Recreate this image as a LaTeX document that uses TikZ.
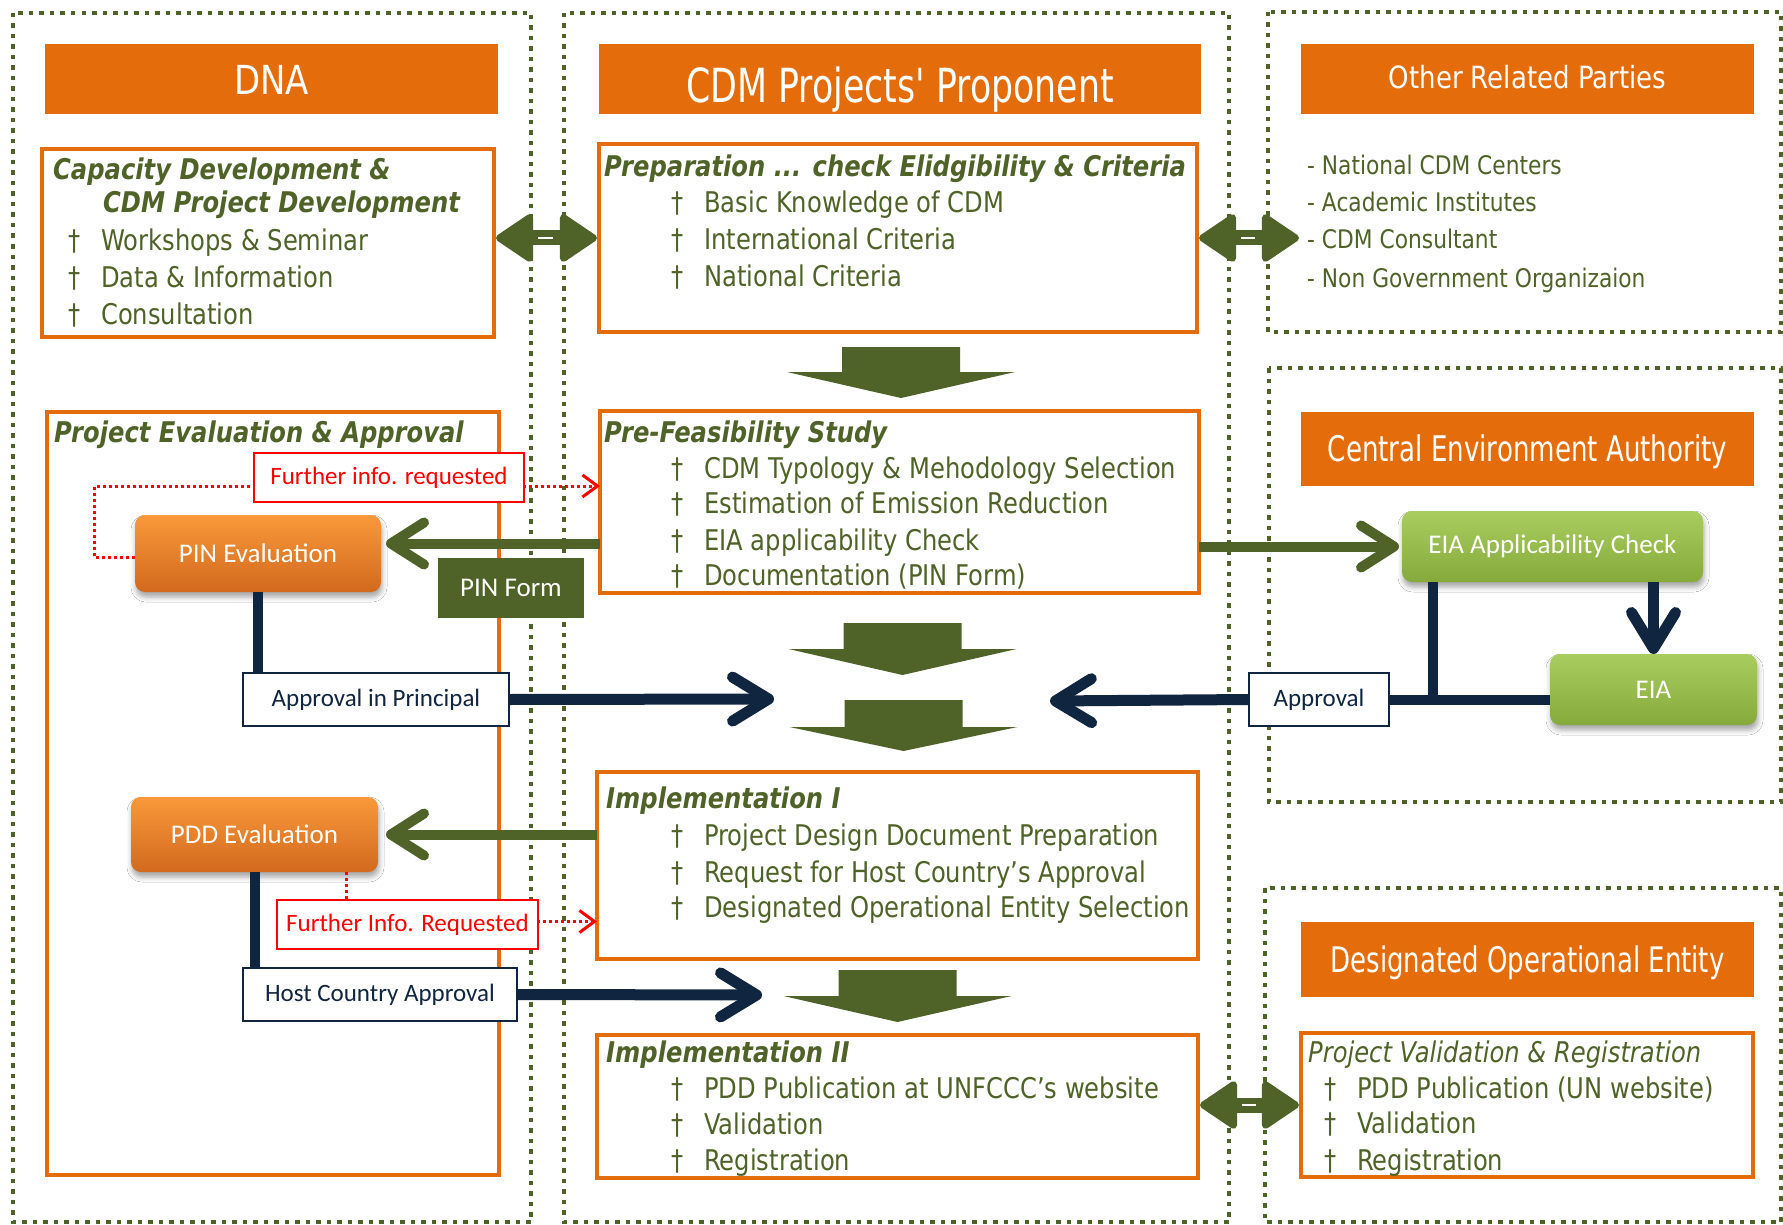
\documentclass[tikz,border=0pt]{standalone}
\usepackage{fontspec}
\setmainfont{DejaVu Sans}[FakeStretch=0.85]
\newfontfamily\hfont{DejaVu Sans}[FakeStretch=0.74]
\newfontfamily\cfont{Carlito}
\usetikzlibrary{arrows.meta,calc,shadows.blur}
\definecolor{cOlive}{HTML}{4F6228}
\definecolor{cOrange}{HTML}{E46C0A}
\definecolor{cNavy}{HTML}{10253F}
\definecolor{cOrL}{HTML}{F9993A}
\definecolor{cOrD}{HTML}{D2691E}
\definecolor{cGrL}{HTML}{AACD5F}
\definecolor{cGrD}{HTML}{85A93A}
\newcommand\itm[4]{\node[body] (#1) at (#2,#3) {\makebox[33pt][l]{†}#4};}
\newcommand\blockarr[4]{\fill[cOlive] (#1-59,#2) -- (#1+59,#2) -- (#1+59,#3) -- (#1+114,#3) -- (#1,#4) -- (#1-114,#3) -- (#1-59,#3) -- cycle;}
\begin{document}
\begin{tikzpicture}[x=1pt,y=-1pt,
  frame/.style={draw=cOlive, line width=4.5pt, dash pattern=on 4.5pt off 6pt},
  hdr/.style={fill=cOrange, draw=none, inner sep=0pt, outer sep=0pt},
  htext/.style={anchor=base, text=white, inner sep=0pt},
  obox/.style={draw=cOrange, line width=4pt, fill=white, inner sep=0pt, outer sep=0pt},
  body/.style={anchor=base west, inner sep=0pt, text=cOlive, font=\fontsize{28.5}{34}\selectfont},
  ttl/.style={anchor=base west, inner sep=0pt, text=cOlive, font=\fontsize{28.5}{34}\selectfont\bfseries\itshape},
  ittl/.style={anchor=base west, inner sep=0pt, text=cOlive, font=\fontsize{28.5}{34}\selectfont\itshape},
  lst/.style={anchor=base west, inner sep=0pt, text=cOlive, font=\fontsize{25.6}{30}\selectfont},
  evalnode/.style={rounded corners=10pt, top color=cOrL, bottom color=cOrD, text=white, font=\cfont\fontsize{27}{27}\selectfont, inner sep=0pt, outer sep=0pt, blur shadow={shadow xshift=1pt, shadow yshift=-5pt, shadow blur radius=5pt, shadow opacity=35}},
  greennode/.style={evalnode, top color=cGrL, bottom color=cGrD},
  lbl/.style={draw=cNavy, line width=2.5pt, fill=white, text=cNavy, font=\cfont\fontsize{25}{25}\selectfont, inner sep=0pt, outer sep=0pt, minimum height=53pt},
  redlbl/.style={draw=red, line width=2pt, fill=white, text=red, font=\cfont\fontsize{25}{25}\selectfont, inner sep=0pt, outer sep=0pt, minimum height=49pt},
  greenarrow/.style={draw=cOlive, line width=10pt, -{Straight Barb[length=33pt,width=42pt,round]}},
  navyarrow/.style={draw=cNavy, line width=11pt, -{Straight Barb[length=36pt,width=44pt,round]}},
  navyline/.style={draw=cNavy, line width=10pt},
  dblarrow/.style={draw=cOlive, line width=15pt, {Triangle[length=40pt,width=52pt,round,line width=7pt]}-{Triangle[length=40pt,width=52pt,round,line width=7pt]}},
  stripe/.style={draw=white, line width=2.5pt},
  reddot/.style={draw=red, line width=3pt, dash pattern=on 3pt off 3pt, -{Straight Barb[length=15pt,width=22pt,line width=3pt]}}
]
\useasboundingbox (0,0) rectangle (1783,1225);
\fill[white] (0,0) rectangle (1783,1225);

% dotted frames
\draw[frame] (13,13) rectangle (531,1222);
\draw[frame] (564,13) rectangle (1229,1222);
\draw[frame] (1268,12) rectangle (1781,332);
\draw[frame] (1269,368) rectangle (1781,802);
\draw[frame] (1265,888) rectangle (1781,1222);

% headers
\node[hdr, minimum width=453pt, minimum height=70pt] (hDNA) at (271.5,79) {};
\node[htext, font=\fontsize{40}{40}\selectfont] (tDNA) at (271.5,95) {DNA};
\node[hdr, minimum width=602pt, minimum height=70pt] (hCDM) at (900,79) {};
\node[htext, font=\hfont\fontsize{47}{47}\selectfont] (tCDM) at (900,103) {CDM Projects' Proponent};
\node[hdr, minimum width=453pt, minimum height=70pt] (hORP) at (1527.5,79) {};
\node[htext, font=\fontsize{30.6}{31}\selectfont] (tORP) at (1527.5,89) {Other Related Parties};
\node[hdr, minimum width=453pt, minimum height=74pt] (hCEA) at (1527.5,449) {};
\node[htext, font=\hfont\fontsize{35.3}{36}\selectfont] (tCEA) at (1527.5,461) {Central Environment Authority};
\node[hdr, minimum width=453pt, minimum height=75pt] (hDOE) at (1527.5,959.5) {};
\node[htext, font=\hfont\fontsize{35.2}{36}\selectfont] (tDOE) at (1527.5,972) {Designated Operational Entity};

% orange content boxes
\node[obox, minimum width=452pt, minimum height=188pt] (bCap) at (268,243) {};
\node[obox, minimum width=598pt, minimum height=188pt] (bPrep) at (898,238) {};
\node[obox, minimum width=452pt, minimum height=763pt] (bEval) at (273,793.5) {};
\node[obox, minimum width=599pt, minimum height=182pt] (bPre) at (899.5,502) {};
\node[obox, minimum width=601pt, minimum height=187pt] (bImp1) at (897.5,865.5) {};
\node[obox, minimum width=601pt, minimum height=143pt] (bImp2) at (897.5,1106.5) {};
\node[obox, minimum width=452pt, minimum height=144pt] (bVal) at (1527,1105) {};

% texts in boxes
\node[ttl] (cap1) at (53,180) {Capacity Development \&};
\node[ttl] (cap2) at (103,213) {CDM Project Development};
\itm{cap3}{68}{251}{Workshops \& Seminar}
\itm{cap4}{68}{287}{Data \& Information}
\itm{cap5}{68}{324}{Consultation}

\node[ttl] (prep0) at (604,177) {Preparation ... check Elidgibility \& Criteria};
\itm{prep1}{671}{213}{Basic Knowledge of CDM}
\itm{prep2}{671}{250}{International Criteria}
\itm{prep3}{671}{286}{National Criteria}

\node[lst] (orp1) at (1307,175) {- National CDM Centers};
\node[lst] (orp2) at (1307,212) {- Academic Institutes};
\node[lst] (orp3) at (1307,248) {- CDM Consultant};
\node[lst] (orp4) at (1307,287) {- Non Government Organizaion};

\node[ttl] (ev0) at (54,442) {Project Evaluation \& Approval};

\node[ttl] (pf0) at (604,442) {Pre-Feasibility Study};
\itm{pf1}{671}{478}{CDM Typology \& Mehodology Selection}
\itm{pf2}{671}{513}{Estimation of Emission Reduction}
\itm{pf3}{671}{550}{EIA applicability Check}
\itm{pf4}{671}{585}{Documentation (PIN Form)}

\node[ttl] (im0) at (606,808) {Implementation I};
\itm{im1}{671}{845}{Project Design Document Preparation}
\itm{im2}{671}{882}{Request for Host Country's Approval}
\itm{im3}{671}{917}{Designated Operational Entity Selection}

\node[ttl] (iz0) at (606,1062) {Implementation II};
\itm{iz1}{671}{1098}{PDD Publication at UNFCCC's website}
\itm{iz2}{671}{1134}{Validation}
\itm{iz3}{671}{1170}{Registration}

\node[ittl] (va0) at (1308,1062) {Project Validation \& Registration};
\itm{va1}{1324}{1098}{PDD Publication (UN website)}
\itm{va2}{1324}{1133}{Validation}
\itm{va3}{1324}{1170}{Registration}

% block arrows
\blockarr{901}{347}{372}{398}
\blockarr{902.5}{623}{649}{675}
\blockarr{903.5}{700}{727}{751}
\blockarr{897.5}{970}{996}{1022}

% process nodes
\node[evalnode, minimum width=246pt, minimum height=77pt] (pin) at (258,553.5) {PIN Evaluation};
\node[evalnode, minimum width=247pt, minimum height=75pt] (pdd) at (254.5,834.5) {PDD Evaluation};
\node[greennode, minimum width=301pt, minimum height=71pt] (eiacheck) at (1552.5,546.5) {EIA Applicability Check};
\node[greennode, minimum width=207pt, minimum height=71pt] (eia) at (1653.5,689.5) {EIA};

% coordinates
\coordinate (tipA) at (774,699);
\coordinate (tipB) at (762,995);
\coordinate (tipC) at (1050,701);
\coordinate (pinE) at ([yshift=10pt]pin.east);
\coordinate (ej) at ($(eiacheck.south west)+(31,0)$);
\coordinate (rc) at (94.5,486);
\coordinate (rd) at ($(pdd.south east)+(-32,0)$);
\coordinate (pinW) at ([yshift=-4pt]pin.west);
\coordinate (re) at ([yshift=3pt]bImp1.west |- 0,924.5);

% double arrows
\draw[dblarrow, shorten <=2pt, shorten >=2pt] (bCap.east |- bPrep.west) -- (bPrep.west);
\draw[stripe, shorten <=44pt, shorten >=46pt] (bCap.east |- bPrep.west) -- (bPrep.west);
\draw[dblarrow, shorten <=2pt, shorten >=8pt] (bPrep.east) -- (bPrep.east -| orp3.west);
\draw[stripe, shorten <=44pt, shorten >=52pt] (bPrep.east) -- (bPrep.east -| orp3.west);
\draw[dblarrow, shorten <=2pt, shorten >=2pt] (bImp2.east |- bVal.west) -- (bVal.west);
\draw[stripe, shorten <=44pt, shorten >=45pt] (bImp2.east |- bVal.west) -- (bVal.west);

% green arrows
\draw[greenarrow, shorten >=5pt] (pinE -| bPre.west) -- (pinE);
\draw[greenarrow, shorten >=8pt] (pdd.east -| bImp1.west) -- (pdd.east);
\draw[greenarrow, shorten >=3pt] (bPre.east |- eiacheck.west) -- (eiacheck.west);

% red dotted
\draw[reddot] (pinW) -| (rc) -- (rc -| bPre.west);
\draw[reddot] (rd) |- (re);

% labels
\node[lbl, minimum width=266pt] (aip) at (376,699.5) {Approval in Principal};
\node[lbl, minimum width=274pt] (hca) at (380,994.5) {Host Country Approval};
\node[lbl, minimum width=140pt] (appr) at (1319,699.5) {Approval};
\node[fill=cOlive, text=white, font=\cfont\fontsize{27}{27}\selectfont, inner sep=0pt, minimum width=146pt, minimum height=60pt] (pinform) at (511,588) {PIN Form};
\node[redlbl, minimum width=270pt] (fir1) at (389,477.5) {Further info. requested};
\node[redlbl, minimum width=261pt] (fir2) at (407.5,924.5) {Further Info. Requested};

% navy connectors
\draw[navyline] (pin.south) -- (pin.south |- aip.north);
\draw[navyline] (pdd.south) -- (pdd.south |- hca.north);
\draw[navyarrow] (aip.east) -- (tipA);
\draw[navyarrow] (hca.east) -- (tipB);
\draw[navyline] (eia.west |- appr.east) -- (appr.east);
\draw[navyline] (ej) -- (ej |- appr.east);
\draw[navyarrow] (appr.west) -- (tipC);
\draw[navyarrow] (eia.north |- eiacheck.south) -- (eia.north);
\end{tikzpicture}
\end{document}
